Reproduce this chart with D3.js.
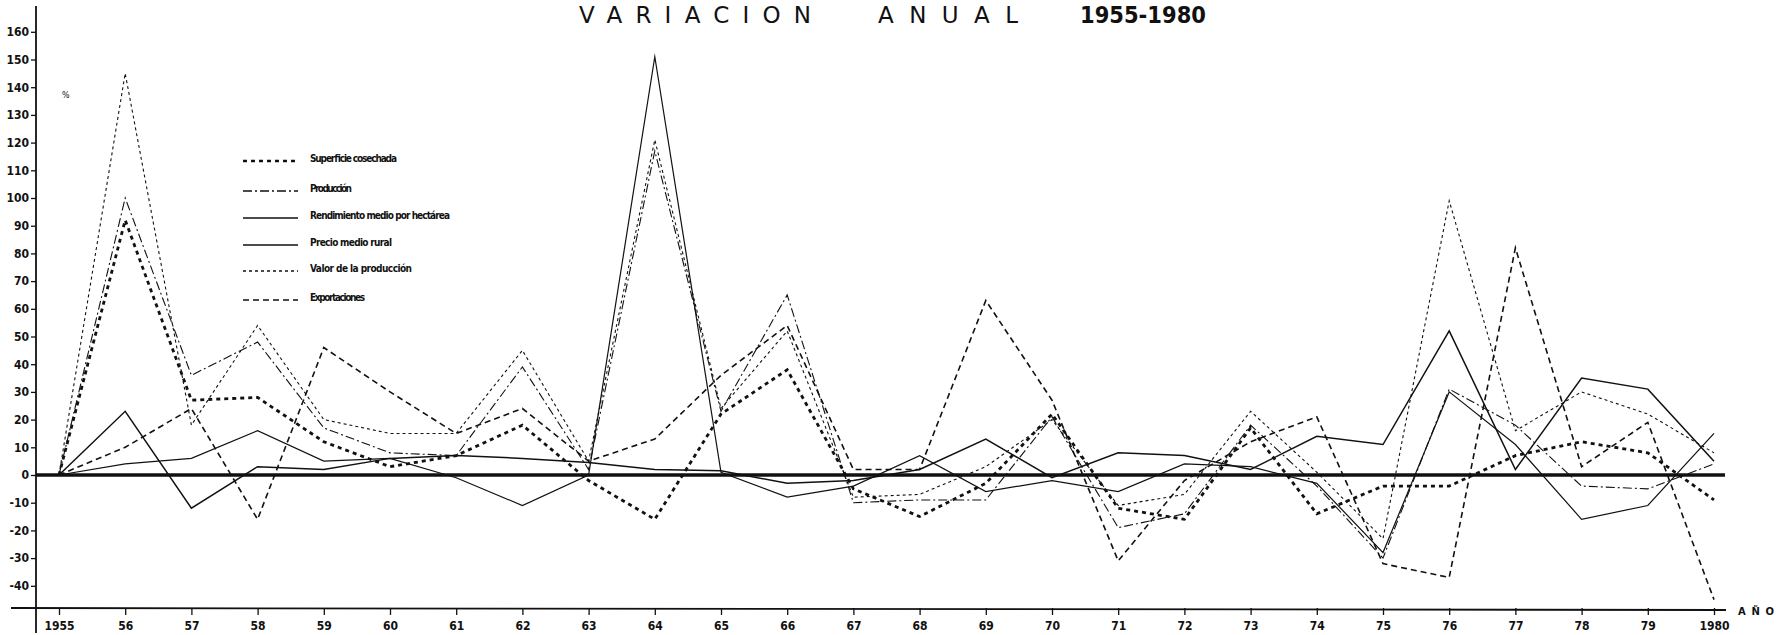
<!DOCTYPE html>
<html><head><meta charset="utf-8">
<script src="https://cdn.jsdelivr.net/npm/d3@7/dist/d3.min.js"></script>
<style>html,body{margin:0;padding:0;background:#fff;} svg{display:block;}</style>
</head><body>
<svg id="chart" width="1785" height="635"></svg>
<script>
// ---- data ----
const years = [1955,1956,1957,1958,1959,1960,1961,1962,1963,1964,1965,1966,1967,1968,1969,1970,1971,1972,1973,1974,1975,1976,1977,1978,1979,1980];
const xTickLabels = ["1955","56","57","58","59","60","61","62","63","64","65","66","67","68","69","70","71","72","73","74","75","76","77","78","79","1980"];
const yTicks = [-40,-30,-20,-10,0,10,20,30,40,50,60,70,80,90,100,110,120,130,140,150,160];
const seriesNames = ["Superficie cosechada","Producción","Rendimiento medio por hectárea","Precio medio rural","Valor de la producción","Exportaciones"];
const superficie   = [0,92,27,28,12,3,7,18,-2,-16,22,38,-5,-15,-3,22,-12,-16,17,-14,-4,-4,7,12,8,-9];
const produccion   = [0,100,36,48,17,8,7,39,2,117,23,65,-10,-9,-9,21,-19,-14,18,-4,-30,31,18,-4,-5,4];
const rendimiento  = [0,4,6,16,5,6,-1,-11,0,151,1,-8,-4,7,-6,-2,-6,4,3,-3,-28,30,11,-16,-11,15];
const precio       = [0,23,-12,3,2,6,7,6,4.5,2,1.5,-3,-2,2,13,-1,8,7,2,14,11,52,2,35,31,5];
const valor        = [0,145,18,54,20,15,15,45,5,121,24,52,-8,-7,3,20,-11,-7,23,1,-23,99,16,30,22,8];
const exportaciones= [0,10,24,-16,46,30,15,24,5,13,36,54,2,2,63,27,-31,-2,12,21,-32,-37,82,3,19,-45];

// ---- styles ----
const styles = [
  {w:2.8, dash:"4,4"},        // superficie
  {w:1.1, dash:"9,3,2,3"},    // produccion
  {w:1.2, dash:null},         // rendimiento
  {w:1.5, dash:null},         // precio
  {w:1.1, dash:"3,3"},        // valor
  {w:1.6, dash:"6,4"}         // exportaciones
];
const allValues = [superficie, produccion, rendimiento, precio, valor, exportaciones];
const series = seriesNames.map((n,i)=>({name:n, values:allValues[i], style:styles[i]}));

const svg = d3.select("#chart");
const ink = "#111";
const x = d3.scaleLinear().domain([1955,1980]).range([59,1714]);
const y = d3.scaleLinear().domain([-40,160]).range([585.8,31.8]);

// title
const titleG = svg.append("g").attr("fill", ink);
titleG.append("text").attr("x",579).attr("y",23).attr("font-family","DejaVu Sans").attr("font-size",23)
  .attr("textLength",232).attr("lengthAdjust","spacing").text("VARIACION");
titleG.append("text").attr("x",878).attr("y",23).attr("font-family","DejaVu Sans").attr("font-size",23)
  .attr("textLength",140).attr("lengthAdjust","spacing").text("ANUAL");
titleG.append("text").attr("x",1080).attr("y",23).attr("font-family","DejaVu Sans Condensed").attr("font-weight","bold").attr("font-size",23)
  .attr("textLength",126).attr("lengthAdjust","spacingAndGlyphs").text("1955-1980");

// lines
const line = d3.line().x((d,i)=>x(years[i])).y(d=>y(d));
series.forEach(s=>{
  svg.append("path").datum(s.values).attr("d",line)
    .attr("fill","none").attr("stroke",ink).attr("stroke-width",s.style.w)
    .attr("stroke-dasharray",s.style.dash).attr("stroke-linejoin","miter").attr("stroke-miterlimit",10);
});

// zero line
svg.append("line").attr("x1",36).attr("x2",1725).attr("y1",y(0)).attr("y2",y(0))
  .attr("stroke",ink).attr("stroke-width",3.5);

// y axis
const yAxis = d3.axisLeft(y).tickValues(yTicks).tickSize(5).tickPadding(2).tickFormat(d=>String(d));
const yg = svg.append("g").attr("transform","translate(36,0)").call(yAxis);
yg.select(".domain").remove();
yg.selectAll("line").attr("stroke",ink).attr("stroke-width",1.3);
yg.selectAll("text").attr("font-family","DejaVu Sans Condensed").attr("font-weight","bold").attr("font-size",12).attr("fill",ink);
svg.append("line").attr("x1",36).attr("x2",36).attr("y1",6).attr("y2",633).attr("stroke",ink).attr("stroke-width",1.8);

// x axis
const xAxis = d3.axisBottom(x).tickValues(years).tickSize(7).tickPadding(6).tickFormat((d,i)=>xTickLabels[i]);
const xg = svg.append("g").attr("transform","translate(0,608)").call(xAxis);
xg.select(".domain").remove();
xg.selectAll("line").attr("stroke",ink).attr("stroke-width",1.3);
xg.selectAll("text").attr("font-family","DejaVu Sans Condensed").attr("font-weight","bold").attr("font-size",12).attr("fill",ink);
svg.append("line").attr("x1",11).attr("x2",1726).attr("y1",608).attr("y2",610).attr("stroke",ink).attr("stroke-width",1.8);
svg.append("text").attr("x",1738).attr("y",615).attr("font-family","DejaVu Sans").attr("font-weight","bold")
  .attr("font-size",10).attr("textLength",36).attr("lengthAdjust","spacing").attr("fill",ink).text("AÑO");

// percent mark
svg.append("text").attr("x",62).attr("y",98).attr("font-family","DejaVu Sans").attr("font-size",8).attr("fill",ink).text("%");

// legend
const legTextY = [158,188,215,242,268,297];
const legWidths = [87,42,140,82,102,55];
const lg = svg.append("g");
series.forEach((s,i)=>{
  lg.append("line").attr("x1",243).attr("x2",298).attr("y1",legTextY[i]+3).attr("y2",legTextY[i]+3)
    .attr("stroke",ink).attr("stroke-width",Math.max(1.3,s.style.w*0.9)).attr("stroke-dasharray",s.style.dash);
  lg.append("text").attr("x",310).attr("y",legTextY[i]).attr("dy","0.35em")
    .attr("font-family","DejaVu Sans Condensed").attr("font-weight","bold").attr("font-size",10)
    .attr("textLength",legWidths[i]).attr("lengthAdjust","spacing").attr("fill",ink).text(s.name);
});
</script>
</body></html>
